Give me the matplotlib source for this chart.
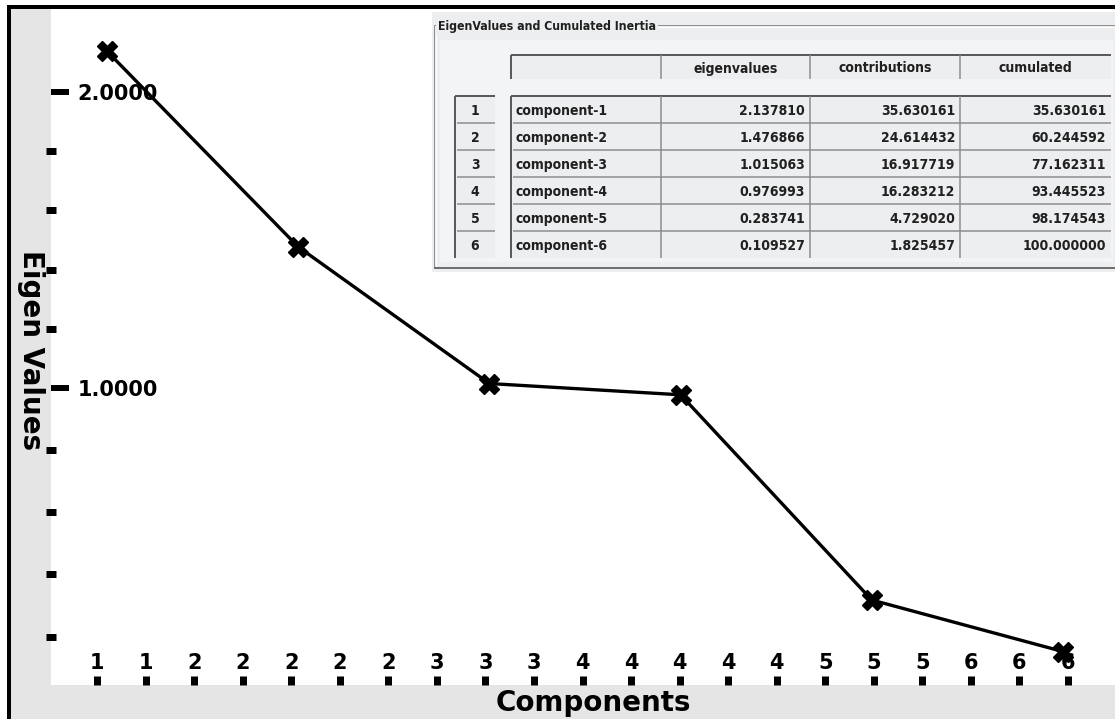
import matplotlib
matplotlib.use('Agg')
import numpy as np
import matplotlib.pyplot as plt
from matplotlib.patches import Rectangle
from matplotlib import font_manager

# principal components and their inertia
components = [1, 2, 3, 4, 5, 6]
eigenvalues = [2.137810, 1.476866, 1.015063, 0.976993, 0.283741, 0.109527]
contributions = [35.630161, 24.614432, 16.917719, 16.283212, 4.729020, 1.825457]
cumulated = [35.630161, 60.244592, 77.162311, 93.445523, 98.174543, 100.000000]
row_names = ["component-%d" % c for c in components]
col_headers = ["eigenvalues", "contributions", "cumulated"]

# axis ticks as the scree plot widget puts them
x_tick_labels = ['1', '1', '2', '2', '2', '2', '2', '3', '3', '3', '4',
                 '4', '4', '4', '4', '5', '5', '5', '6', '6', '6']
y_major = [2.0, 1.0]
y_minor = [1.8, 1.6, 1.4, 1.2, 0.79, 0.58, 0.37, 0.16]

W, H = 1115, 719
PX = 0.72  # one pixel in points at dpi 100

# narrow face for the table, if one is around
polices = font_manager.fontManager.ttflist
etroites = [f.name for f in polices
            if f.stretch in ('condensed', 'semi-condensed', 'extra-condensed')
            and f.weight in ('bold', 700)]
if 'Liberation Sans Narrow' in etroites:
    narrow = 'Liberation Sans Narrow'
elif 'Noto Sans' in etroites:
    narrow = 'Noto Sans'
else:
    narrow = 'DejaVu Sans'
fs_tab = 10 if narrow in etroites else 9.5
fs_titre = 8.8 if narrow in etroites else 8

fig = plt.figure(figsize=(W / 100, H / 100), dpi=100)
fig.patch.set_facecolor('white')

# grey frame behind the plot
fond = fig.add_axes([0, 0, 1, 1], zorder=0)
fond.set_xlim(0, W)
fond.set_ylim(H, 0)
fond.axis('off')
fond.add_patch(Rectangle((9, 7), W, H, fc='#e5e5e5', ec='none'))
fond.plot([9, 9], [5, H], color='black', lw=4 * PX, solid_capstyle='butt')
fond.plot([7, W], [7, 7], color='black', lw=4 * PX, solid_capstyle='butt')

# scree plot
ax = fig.add_axes([51 / W, 34 / H, (W - 51) / W, (685 - 9) / H], zorder=1)
ax.set_facecolor('white')
for s in ax.spines.values():
    s.set_visible(False)

ax.plot(components, eigenvalues, color='black', lw=2.4, marker='X',
        ms=14, mfc='black', mec='black', zorder=5, clip_on=False)

ax.set_xlim(0.7071, 6.272)
ax.set_ylim(-0.0034, 2.2804)

ax.set_xticks(np.linspace(0.948, 6.026, len(x_tick_labels)))
ax.set_xticklabels(x_tick_labels, fontsize=15, fontweight='bold')
ax.tick_params(axis='x', direction='in', length=9 * PX, width=7 * PX,
               pad=-23, colors='black')

ax.set_yticks(y_major)
ax.set_yticklabels(["%.4f" % v for v in y_major], fontsize=15,
                   fontweight='bold', ha='left')
ax.set_yticks(y_minor, minor=True)
ax.tick_params(axis='y', which='major', direction='in', length=18 * PX,
               width=6 * PX, pad=-19)
ax.tick_params(axis='y', which='minor', direction='inout', length=10 * PX,
               width=7 * PX)

fig.text(31 / W, 1 - 350 / H, 'Eigen Values', rotation=270, ha='center',
         va='center', fontsize=20, fontweight='bold')
fig.text(593 / W, 1 - 703 / H, 'Components', ha='center', va='center',
         fontsize=20, fontweight='bold')

# table panel drawn in pixel units
tab = fig.add_axes([0, 0, 1, 1], zorder=3)
tab.set_xlim(0, W)
tab.set_ylim(H, 0)
tab.axis('off')
tab.patch.set_visible(False)


def hline(x0, x1, y, c, lw=1):
    tab.plot([x0, x1], [y, y], color=c, lw=lw * PX, solid_capstyle='butt')


def vline(x, y0, y1, c, lw=1):
    tab.plot([x, x], [y0, y1], color=c, lw=lw * PX, solid_capstyle='butt')


txt = dict(fontweight='bold', family=narrow, fontstretch='condensed',
           color='#202020')

gris_panel = '#edeef0'
gris_cell = '#f3f4f6'
tab.add_patch(Rectangle((432, 12), W - 432, 260, fc=gris_panel, ec='none'))

# etched group frame
hline(434, W, 25, '#8f8f8f')
hline(435, W, 26.5, 'white')
vline(434, 25, 268, '#8f8f8f')
vline(435.5, 26, 267, 'white')
hline(434, W, 268, '#6f6f6f', 2)
tab.text(438, 25, 'EigenValues and Cumulated Inertia', ha='left',
         va='center_baseline', fontsize=fs_titre,
         bbox=dict(fc=gris_panel, ec='none', pad=1.5), **txt)
tab.add_patch(Rectangle((440, 40), W - 2 - 440, 222, fc=gris_cell, ec='none'))

bords = [511, 661, 810, 960, 1111]
# header row
tab.add_patch(Rectangle((511, 55), 600, 24, fc=gris_panel, ec='none'))
hline(511, 1111, 55, '#5a5a5a', 2)
vline(511, 55, 79, '#5a5a5a', 2)
for x in bords[1:-1]:
    vline(x, 55, 79, '#8c8c8c', 1.5)
for i, h in enumerate(col_headers):
    tab.text((bords[i + 1] + bords[i + 2]) / 2, 67, h, ha='center',
             va='center_baseline', fontsize=fs_tab, **txt)

# body rows
y0, rh = 96, 27
n = len(components)
tab.add_patch(Rectangle((455, y0), 40, rh * n, fc=gris_panel, ec='none'))
tab.add_patch(Rectangle((511, y0), 600, rh * n, fc=gris_panel, ec='none'))
hline(455, 495, y0, '#5a5a5a', 2)
vline(455, y0, y0 + rh * n, '#5a5a5a', 2)
hline(511, 1111, y0, '#5a5a5a', 2)
vline(511, y0, y0 + rh * n, '#5a5a5a', 2)
for x in bords[1:-1]:
    vline(x, y0, y0 + rh * n, '#8c8c8c', 1.5)
for i in range(1, n):
    hline(457, 495, y0 + rh * i, '#8c8c8c', 1.5)
    hline(513, 1111, y0 + rh * i, '#8c8c8c', 1.5)

for i in range(n):
    yc = y0 + rh * i + rh / 2
    kw = dict(va='center_baseline', fontsize=fs_tab, **txt)
    tab.text(475, yc, str(components[i]), ha='center', **kw)
    tab.text(516, yc, row_names[i], ha='left', **kw)
    for j, vals in enumerate([eigenvalues, contributions, cumulated]):
        tab.text(bords[j + 2] - 5, yc, "%.6f" % vals[i], ha='right', **kw)

fig.savefig('out.png', dpi=100)
